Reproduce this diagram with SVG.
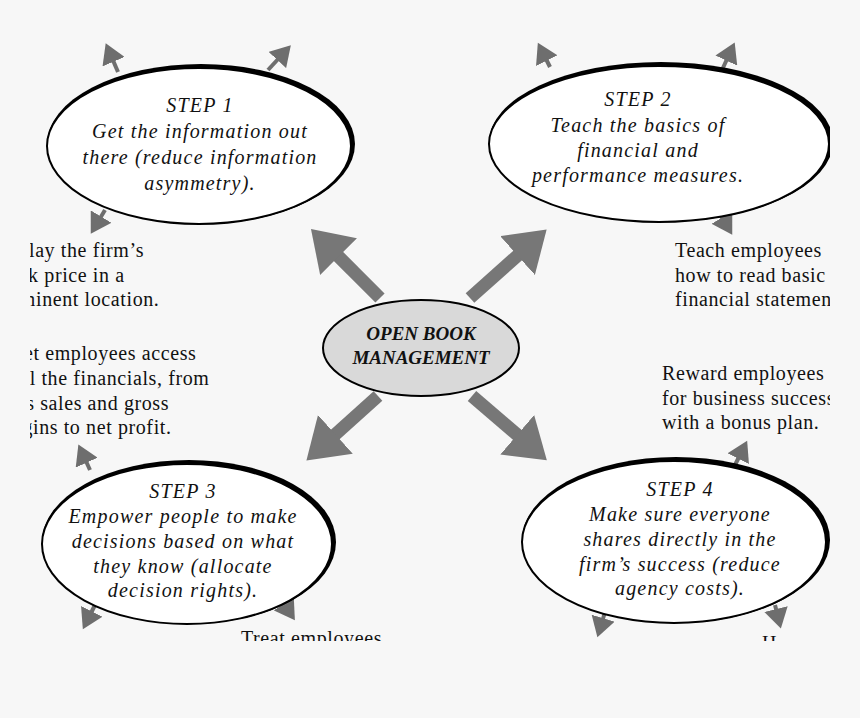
<svg xmlns="http://www.w3.org/2000/svg" width="860" height="718" viewBox="0 0 860 718">
<style>
.bg{fill:#f7f7f7}
.sh{fill:#000}
.el{fill:#fff;stroke:#000;stroke-width:2}
.it{font-family:"Liberation Serif",serif;font-style:italic;font-size:20px;letter-spacing:1.2px;fill:#111;text-anchor:middle}
.tx{font-family:"Liberation Serif",serif;font-size:20px;letter-spacing:0.6px;fill:#111}
.big{stroke:#777;stroke-width:13;fill:none}
.sm{stroke:#6e6e6e;stroke-width:4;fill:none}
</style>
<defs>
<marker id="bh" markerWidth="4" markerHeight="4" refX="1.8" refY="2" orient="auto" markerUnits="strokeWidth"><path d="M0,0 L3,2 L0,4 Z" fill="#777"/></marker>
<marker id="sh" markerWidth="6" markerHeight="6" refX="1" refY="3" orient="auto" markerUnits="strokeWidth"><path d="M0,0 L5,3 L0,6 Z" fill="#6e6e6e"/></marker>
<clipPath id="c"><rect x="30" y="0" width="800" height="641"/></clipPath>
</defs>
<rect class="bg" width="860" height="718"/>
<g clip-path="url(#c)">
<g id="connectors">
<line class="big" x1="380" y1="298" x2="322" y2="240" marker-end="url(#bh)"/>
<line class="big" x1="470" y1="298" x2="535" y2="240" marker-end="url(#bh)"/>
<line class="big" x1="378" y1="396" x2="318" y2="450" marker-end="url(#bh)"/>
<line class="big" x1="472" y1="396" x2="535" y2="450" marker-end="url(#bh)"/>
<line class="sm" x1="118" y1="72" x2="112" y2="58" marker-end="url(#sh)"/>
<line class="sm" x1="268" y1="70" x2="280" y2="57" marker-end="url(#sh)"/>
<line class="sm" x1="105" y1="210" x2="99" y2="220" marker-end="url(#sh)"/>
<line class="sm" x1="550" y1="67" x2="545" y2="57" marker-end="url(#sh)"/>
<line class="sm" x1="722" y1="70" x2="728" y2="57" marker-end="url(#sh)"/>
<line class="sm" x1="721" y1="216" x2="724" y2="221" marker-end="url(#sh)"/>
<line class="sm" x1="90" y1="470" x2="85" y2="459" marker-end="url(#sh)"/>
<line class="sm" x1="95" y1="605" x2="90" y2="615" marker-end="url(#sh)"/>
<line class="sm" x1="282" y1="601" x2="286" y2="607" marker-end="url(#sh)"/>
<line class="sm" x1="735" y1="465" x2="740" y2="455" marker-end="url(#sh)"/>
<line class="sm" x1="605" y1="612" x2="602" y2="622" marker-end="url(#sh)"/>
<line class="sm" x1="775" y1="605" x2="777" y2="613" marker-end="url(#sh)"/>
</g>
<g id="step1">
<ellipse class="sh" cx="201" cy="144" rx="154" ry="80"/>
<ellipse class="el" cx="199" cy="146" rx="152" ry="78"/>
<text class="it"><tspan x="200" y="112">STEP 1</tspan><tspan x="200" y="138">Get the information out</tspan><tspan x="200" y="164">there (reduce information</tspan><tspan x="200" y="190">asymmetry).</tspan></text>
</g>
<g id="step2">
<ellipse class="sh" cx="661" cy="142" rx="172" ry="80"/>
<ellipse class="el" cx="659" cy="144" rx="170" ry="78"/>
<text class="it"><tspan x="638" y="106">STEP 2</tspan><tspan x="638" y="132">Teach the basics of</tspan><tspan x="638" y="157">financial and</tspan><tspan x="638" y="182">performance measures.</tspan></text>
</g>
<g id="step3">
<ellipse class="sh" cx="189" cy="542" rx="147" ry="82"/>
<ellipse class="el" cx="187" cy="544" rx="145" ry="80"/>
<text class="it"><tspan x="183" y="498">STEP 3</tspan><tspan x="183" y="523">Empower people to make</tspan><tspan x="183" y="548">decisions based on what</tspan><tspan x="183" y="573">they know (allocate</tspan><tspan x="183" y="597">decision rights).</tspan></text>
</g>
<g id="step4">
<ellipse class="sh" cx="676" cy="540" rx="154" ry="83"/>
<ellipse class="el" cx="674" cy="542" rx="152" ry="81"/>
<text class="it"><tspan x="680" y="496">STEP 4</tspan><tspan x="680" y="521">Make sure everyone</tspan><tspan x="680" y="546">shares directly in the</tspan><tspan x="680" y="571">firm’s success (reduce</tspan><tspan x="680" y="595">agency costs).</tspan></text>
</g>
<g id="center">
<ellipse cx="421" cy="348" rx="98" ry="48" fill="#d9d9d9" stroke="#000" stroke-width="2"/>
<text class="it" style="font-weight:bold;font-size:19px;letter-spacing:0"><tspan x="421" y="340">OPEN BOOK</tspan><tspan x="421" y="364">MANAGEMENT</tspan></text>
</g>
<g id="labels">
<text class="tx"><tspan x="10" y="257">splay the firm’s</tspan><tspan x="8" y="282">ock price in a</tspan><tspan x="2" y="306">rominent location.</tspan></text>
<text class="tx"><tspan x="24" y="360">et employees access</tspan><tspan x="14" y="385">all the financials, from</tspan><tspan x="20" y="410">ts sales and gross</tspan><tspan x="6" y="434">argins to net profit.</tspan></text>
<text class="tx"><tspan x="675" y="257">Teach employees</tspan><tspan x="675" y="282">how to read basic</tspan><tspan x="675" y="306">financial statements.</tspan></text>
<text class="tx"><tspan x="662" y="380">Reward employees</tspan><tspan x="662" y="405">for business success</tspan><tspan x="662" y="429">with a bonus plan.</tspan></text>
<text class="tx"><tspan x="241" y="645">Treat employees</tspan></text>
<text class="tx"><tspan x="762" y="650">H</tspan></text>
</g>
</g>
</svg>
